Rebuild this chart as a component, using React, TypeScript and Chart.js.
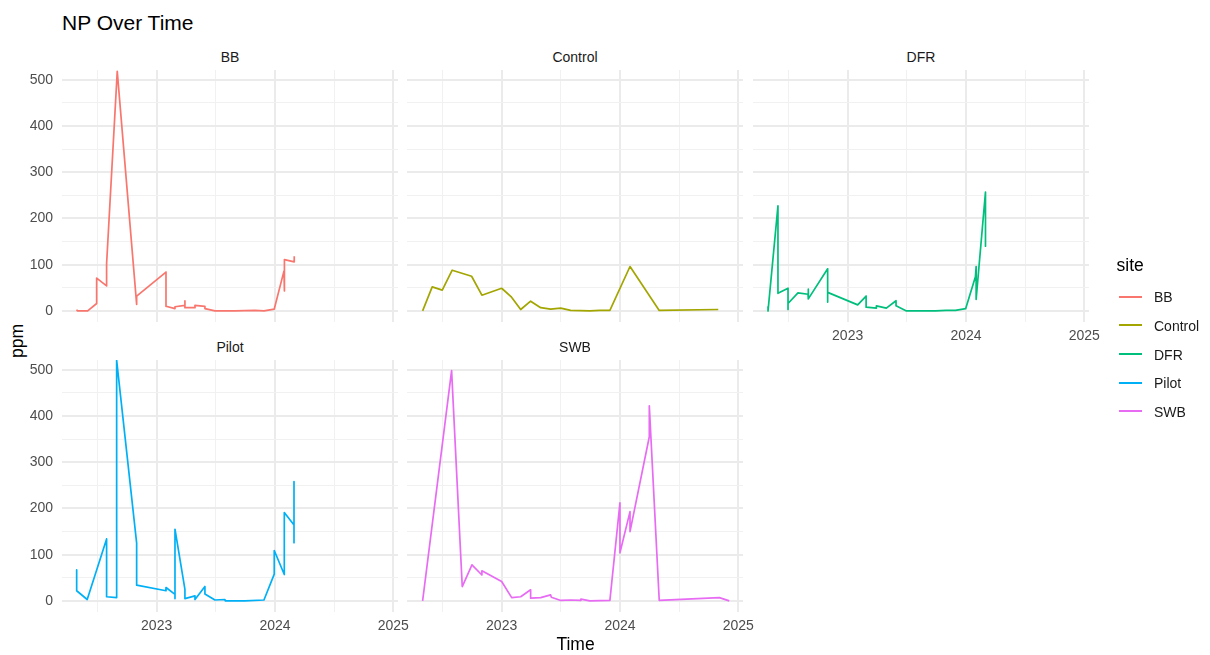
import React, { useEffect, useRef } from "react";
import { Chart, registerables } from "chart.js";

Chart.register(...registerables);

const FONT = "'Liberation Sans', Arial, Helvetica, sans-serif";

// ---------------- data ----------------
const siteNames = ["BB", "Control", "DFR", "Pilot", "SWB"];
const siteColors = ["#F8766D", "#A3A500", "#00BF7D", "#00B0F6", "#E76BF3"];

const bbTime = [
  2022.324, 2022.33, 2022.417, 2022.493, 2022.493, 2022.577, 2022.577, 2022.667, 2022.831, 2022.831,
  2023.079, 2023.079, 2023.155, 2023.155, 2023.239, 2023.239, 2023.239, 2023.324, 2023.324, 2023.408,
  2023.408, 2023.493, 2023.662, 2023.831, 2023.907, 2023.994, 2024.076, 2024.08, 2024.08, 2024.163,
  2024.163,
];
const bbNP = [
  3, 0, 0, 16, 71, 54, 102, 518, 14, 32,
  84, 10, 5, 9, 12, 22, 7, 7, 12, 10,
  5, 0, 0, 1, 0, 4, 86, 43, 111, 106,
  118,
];

const controlTime = [
  2022.332, 2022.413, 2022.498, 2022.582, 2022.746, 2022.833, 2023.0, 2023.079, 2023.161, 2023.245,
  2023.33, 2023.414, 2023.499, 2023.583, 2023.746, 2023.831, 2023.915, 2024.085, 2024.332, 2024.831,
];
const controlNP = [0, 52, 45, 88, 75, 34, 49, 31, 3, 21, 7, 4, 6, 1, 0, 1, 1, 96, 1, 3];

const dfrTime = [
  2022.327, 2022.327, 2022.411, 2022.411, 2022.496, 2022.496, 2022.496, 2022.58, 2022.665, 2022.665,
  2022.67, 2022.831, 2022.831, 2022.831, 2023.085, 2023.156, 2023.156, 2023.243, 2023.243, 2023.327,
  2023.409, 2023.409, 2023.497, 2023.581, 2023.742, 2023.832, 2023.911, 2023.998, 2024.08, 2024.086,
  2024.086, 2024.165, 2024.165,
];
const dfrNP = [
  9, 0, 227, 38, 49, 3, 16, 39, 36, 47,
  26, 91, 19, 40, 13, 32, 8, 6, 11, 6,
  22, 11, 0, 0, 0, 1, 1, 5, 74, 96,
  25, 257, 140,
];

const pilotTime = [
  2022.324, 2022.324, 2022.413, 2022.577, 2022.577, 2022.662, 2022.662, 2022.831, 2022.831, 2023.079,
  2023.079, 2023.155, 2023.155, 2023.155, 2023.239, 2023.239, 2023.324, 2023.324, 2023.408, 2023.408,
  2023.493, 2023.577, 2023.58, 2023.746, 2023.907, 2023.994, 2023.994, 2024.079, 2024.079, 2024.161,
  2024.161, 2024.161,
];
const pilotNP = [
  67, 22, 3, 134, 9, 7, 520, 125, 34, 22,
  29, 14, 5, 155, 25, 5, 11, 3, 31, 15,
  2, 3, 0, 0, 2, 58, 109, 57, 191, 164,
  258, 126,
];

const swbTime = [
  2022.332, 2022.577, 2022.667, 2022.749, 2022.833, 2022.833, 2023.0, 2023.085, 2023.161, 2023.245,
  2023.245, 2023.33, 2023.414, 2023.42, 2023.5, 2023.583, 2023.67, 2023.67, 2023.746, 2023.915,
  2024.0, 2024.0, 2024.085, 2024.085, 2024.248, 2024.248, 2024.332, 2024.84, 2024.924,
];
const swbNP = [
  0, 498, 31, 78, 56, 65, 42, 7, 9, 24,
  6, 7, 13, 8, 1, 2, 1, 4, 0, 1,
  212, 104, 193, 150, 355, 422, 1, 7, 0,
];

const xTickValues = [2022.5, 2023, 2023.5, 2024, 2024.5, 2025];
const xTickLabels = ["", "2023", "", "2024", "", "2025"];
const yTickValues = [0, 50, 100, 150, 200, 250, 300, 350, 400, 450, 500];
const yTickLabels = ["0", "", "100", "", "200", "", "300", "", "400", "", "500"];
const xLimits = [2022.2, 2025.04];
const yLimits = [-24, 521];

const seriesTime = [bbTime, controlTime, dfrTime, pilotTime, swbTime];
const seriesNP = [bbNP, controlNP, dfrNP, pilotNP, swbNP];

// ---------------- layout ----------------
const PANEL_W = 336;
const PANEL_H = 252;
const X_AXIS_H = 26;
const Y_AXIS_W = 62;
const MARGIN = 20;

const panels = [
  { site: 0, left: 62, top: 70, showY: true, showX: false },
  { site: 1, left: 407, top: 70, showY: false, showX: false },
  { site: 2, left: 753, top: 70, showY: false, showX: true },
  { site: 3, left: 62, top: 360, showY: true, showX: true },
  { site: 4, left: 407, top: 360, showY: false, showX: true },
];

function labelFor(values: number[], labels: string[], v: number) {
  const i = values.indexOf(Number(v));
  return i >= 0 ? labels[i] : "";
}

function Panel(props: { site: number; left: number; top: number; showY: boolean; showX: boolean }) {
  const { site, left, top, showY, showX } = props;
  const ref = useRef<HTMLCanvasElement | null>(null);
  const cLeft = showY ? left - Y_AXIS_W : left - MARGIN;
  const padLeft = showY ? 0 : MARGIN;
  const cWidth = left + PANEL_W + MARGIN - cLeft;
  const cHeight = PANEL_H + (showX ? X_AXIS_H : 0);

  useEffect(() => {
    if (!ref.current) return;
    const time = seriesTime[site];
    const np = seriesNP[site];
    const color = siteColors[site];
    const chart = new Chart(ref.current, {
      type: "line",
      data: {
        datasets: [
          {
            label: siteNames[site],
            data: time.map((t, i) => ({ x: t, y: np[i] })),
            borderColor: color,
            backgroundColor: color,
            borderWidth: 1.7,
            pointRadius: 0,
            pointHoverRadius: 0,
            tension: 0,
            fill: false,
            borderJoinStyle: "round",
          },
        ],
      },
      options: {
        responsive: false,
        maintainAspectRatio: false,
        animation: false,
        devicePixelRatio: 1,
        events: [],
        layout: { padding: { left: padLeft, right: MARGIN, top: 0, bottom: 0 } },
        plugins: {
          legend: { display: false },
          tooltip: { enabled: false },
          title: { display: false },
        },
        scales: {
          x: {
            type: "linear",
            position: "bottom",
            bounds: "data",
            min: xLimits[0],
            max: xLimits[1],
            afterBuildTicks: (s: any) => {
              s.ticks = xTickValues.map((v) => ({ value: v }));
            },
            afterFit: (s: any) => {
              s.height = showX ? X_AXIS_H : 0;
              s.paddingLeft = 0;
              s.paddingRight = 0;
              s.paddingTop = 0;
              s.paddingBottom = 0;
            },
            ticks: {
              display: showX,
              autoSkip: false,
              maxRotation: 0,
              minRotation: 0,
              padding: 6,
              color: "#4d4d4d",
              font: { family: FONT, size: 14 },
              callback: (v: any) => labelFor(xTickValues, xTickLabels, v),
            },
            grid: {
              drawTicks: false,
              color: (ctx: any) => (Number.isInteger(ctx.tick?.value) ? "#ebebeb" : "#f1f1f1"),
              lineWidth: (ctx: any) => (Number.isInteger(ctx.tick?.value) ? 2 : 1),
            },
            border: { display: false },
          },
          y: {
            type: "linear",
            position: "left",
            bounds: "data",
            min: yLimits[0],
            max: yLimits[1],
            afterBuildTicks: (s: any) => {
              s.ticks = yTickValues.map((v) => ({ value: v }));
            },
            afterFit: (s: any) => {
              s.width = showY ? Y_AXIS_W : 0;
              s.paddingLeft = 0;
              s.paddingRight = 0;
              s.paddingTop = 0;
              s.paddingBottom = 0;
            },
            ticks: {
              display: showY,
              autoSkip: false,
              padding: 9,
              color: "#4d4d4d",
              font: { family: FONT, size: 14 },
              callback: (v: any) => labelFor(yTickValues, yTickLabels, v),
            },
            grid: {
              drawTicks: false,
              color: (ctx: any) => ((ctx.tick?.value ?? 1) % 100 === 0 ? "#ebebeb" : "#f1f1f1"),
              lineWidth: (ctx: any) => ((ctx.tick?.value ?? 1) % 100 === 0 ? 2 : 1),
            },
            border: { display: false },
          },
        },
      },
    } as any);
    return () => chart.destroy();
  }, [site, showX, showY, padLeft]);

  return (
    <>
      <div
        style={{
          position: "absolute",
          left: left,
          width: PANEL_W,
          top: top - 20.4,
          height: 14,
          lineHeight: "14px",
          fontSize: 14,
          textAlign: "center",
          color: "#1a1a1a",
          whiteSpace: "nowrap",
        }}
      >
        {siteNames[site]}
      </div>
      <canvas
        ref={ref}
        width={cWidth}
        height={cHeight}
        style={{ position: "absolute", left: cLeft, top: top, width: cWidth, height: cHeight }}
      />
    </>
  );
}

export default function App() {
  return (
    <div
      style={{
        position: "absolute",
        left: 0,
        top: 0,
        width: 1210,
        height: 655,
        overflow: "hidden",
        background: "#ffffff",
        fontFamily: FONT,
      }}
    >
      <div
        style={{
          position: "absolute",
          left: 62,
          top: 12.2,
          fontSize: 21,
          lineHeight: "21px",
          color: "#000",
          whiteSpace: "nowrap",
        }}
      >
        NP Over Time
      </div>

      {panels.map((p) => (
        <Panel key={p.site} {...p} />
      ))}

      {/* y axis title */}
      <div
        style={{
          position: "absolute",
          left: 18,
          top: 341,
          fontSize: 17.5,
          lineHeight: "17.5px",
          color: "#000",
          whiteSpace: "nowrap",
          transform: "translate(-50%, -50%) rotate(-90deg)",
        }}
      >
        ppm
      </div>

      {/* x axis title */}
      <div
        style={{
          position: "absolute",
          left: 575.5,
          top: 636,
          fontSize: 17.5,
          lineHeight: "17.5px",
          color: "#000",
          whiteSpace: "nowrap",
          transform: "translateX(-50%)",
        }}
      >
        Time
      </div>

      {/* legend */}
      <div
        style={{
          position: "absolute",
          left: 1116.5,
          top: 257,
          fontSize: 17.5,
          lineHeight: "17.5px",
          color: "#000",
          whiteSpace: "nowrap",
        }}
      >
        site
      </div>
      {siteNames.map((name, i) => {
        const cy = 296.7 + i * 28.65;
        return (
          <React.Fragment key={name}>
            <div
              style={{
                position: "absolute",
                left: 1119,
                top: cy - 1,
                width: 23,
                height: 2,
                background: siteColors[i],
              }}
            />
            <div
              style={{
                position: "absolute",
                left: 1154,
                top: cy + 5.6 - 11.85,
                fontSize: 14,
                lineHeight: "14px",
                color: "#1a1a1a",
                whiteSpace: "nowrap",
              }}
            >
              {name}
            </div>
          </React.Fragment>
        );
      })}
    </div>
  );
}
